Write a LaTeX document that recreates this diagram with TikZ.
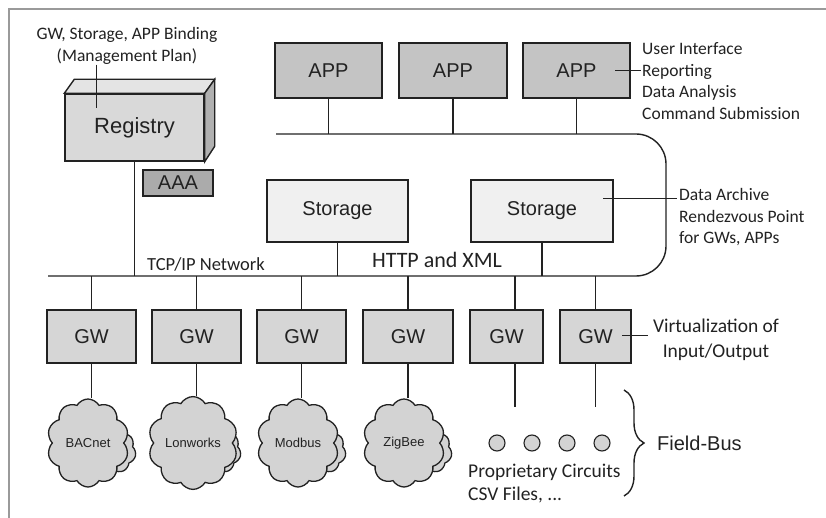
\documentclass[tikz,border=0pt]{standalone}
\usepackage{fontspec}
\setmainfont{Carlito}
\newfontfamily\arialf{Liberation Sans}
\usetikzlibrary{calc,shapes.symbols,decorations.pathreplacing}
\definecolor{ink}{HTML}{222222}
\definecolor{appfill}{HTML}{C4C4C4}
\definecolor{gwfill}{HTML}{D6D6D6}
\definecolor{stfill}{HTML}{F0F0F0}
\definecolor{aaafill}{HTML}{ABABAB}
\definecolor{regfront}{HTML}{D9D9D9}
\definecolor{regtop}{HTML}{E4E4E4}
\definecolor{regside}{HTML}{B0B0B0}
\definecolor{cloudfill}{HTML}{D3D3D3}
\definecolor{framegray}{HTML}{9A9A9A}
\begin{document}
\begin{tikzpicture}[x=1pt,y=-1pt,
  box/.style={draw=ink, line width=1.4pt, text=ink, inner sep=0pt,
    font=\arialf\fontsize{20}{24}\selectfont},
  appbox/.style={box, fill=appfill, minimum width=107pt, minimum height=55pt},
  gwbox/.style={box, fill=gwfill, minimum height=53pt},
  stbox/.style={box, fill=stfill, minimum width=141pt, minimum height=62pt},
  wire/.style={draw=ink, line width=1.4pt},
  leader/.style={draw=ink, line width=0.8pt},
  lbl/.style={text=ink, inner sep=0pt, font=\fontsize{17.5}{21.5}\selectfont},
  cloudnode/.style={cloud, cloud puffs=10, cloud puff arc=120, aspect=0.95,
    draw=ink, line width=1.3pt, fill=cloudfill, minimum width=82pt, minimum height=88pt,
    inner sep=0pt, text=ink, font=\arialf\fontsize{13}{15}\selectfont},
  cloudback/.style={cloud, cloud puffs=7, cloud puff arc=120, aspect=1,
    draw=ink, line width=1.3pt, fill=cloudfill, minimum width=44pt, minimum height=44pt,
    inner sep=0pt},
  dot/.style={circle, draw=ink, line width=1.1pt, fill=cloudfill, minimum size=16pt, inner sep=0pt}
]
\useasboundingbox (0,0) rectangle (826,518);
\fill[white] (0,0) rectangle (826,518);
\draw[framegray, line width=1.2pt] (9,518) -- (9,9) -- (826,9);

% Registry (3D box)
\node[box, fill=regfront, minimum width=139pt, minimum height=67pt,
  font=\arialf\fontsize{22}{26}\selectfont] (reg) at (134.5,127.5) {Registry};
\draw[ink, line width=1.4pt, fill=regtop] (reg.north west) -- ++(10,-14) -- ($(reg.north east)+(10,-14)$) -- (reg.north east) -- cycle;
\draw[ink, line width=1.4pt, fill=regside] (reg.north east) -- ++(10,-14) -- ++(0,67) -- (reg.south east) -- cycle;

\node[box, fill=aaafill, minimum width=70pt, minimum height=26pt] (aaa) at (178,183) {AAA};

% APPs
\node[appbox] (app1) at (328.5,70.5) {APP};
\node[appbox, minimum width=108pt] (app2) at (453,70.5) {APP};
\node[appbox] (app3) at (576.5,70.5) {APP};

% Storages
\node[stbox] (st1) at (337.5,211) {Storage};
\node[stbox, minimum width=142pt] (st2) at (542,211) {Storage};

% GWs
\node[gwbox, minimum width=89pt] (gw1) at (91.5,336.5) {GW};
\node[gwbox, minimum width=89pt] (gw2) at (196.5,336.5) {GW};
\node[gwbox, minimum width=89pt] (gw3) at (301.5,336.5) {GW};
\node[gwbox, minimum width=90pt] (gw4) at (408,336.5) {GW};
\node[gwbox, minimum width=73pt] (gw5) at (506.5,336.5) {GW};
\node[gwbox, minimum width=71pt] (gw6) at (595.5,336.5) {GW};

% Clouds (a small cloud behind each main cloud)
\foreach \x/\n in {92/1,197/2,302/3,408/4}
  \node[cloudback] (cb\n) at (\x+22,451) {};
\node[cloudnode] (c1) at (88,443) {BACnet};
\node[cloudnode] (c2) at (193,443) {Lonworks};
\node[cloudnode] (c3) at (298,443) {Modbus};
\node[cloudnode] (c4) at (404,443) {ZigBee};

% Circles
\node[dot] (d1) at (497,443) {};
\node[dot] (d2) at (532,443) {};
\node[dot] (d3) at (567,443) {};
\node[dot] (d4) at (602,443) {};

% Bus
\coordinate (lbus) at (48,276);
\coordinate (ubus) at (276,134);
\draw[wire, rounded corners=30pt] (lbus) -- (666,276) -- (666,134) -- (ubus);

% Connectors to bus
\draw[wire] (reg.south) -- (reg.south |- lbus);
\foreach \a in {app1,app2,app3} \draw[wire] (\a.south) -- (\a.south |- ubus);
\foreach \s in {st1,st2} \draw[wire] (\s.south) -- (\s.south |- lbus);
\foreach \g in {gw1,gw2,gw3,gw4,gw6} \draw[wire] (\g.north) -- (\g.north |- lbus);
\coordinate (g5x) at (515,276);
\draw[wire] (g5x) -- (g5x |- gw5.north);
\foreach \g/\c in {gw1/c1,gw2/c2,gw3/c3,gw4/c4} \draw[wire] (\g.south) -- (\g.south |- \c.north);
\coordinate (e5) at (515,407);
\coordinate (e6) at (595.5,407);
\draw[wire] (e5 |- gw5.south) -- (e5);
\draw[wire] (gw6.south) -- (e6);

% Labels
\node[lbl, align=center] (mgmt) at (127,46) {GW, Storage, APP Binding\\(Management Plan)};
\coordinate (mgin) at (96,108);
\draw[leader] (mgin |- mgmt.south) -- (mgin);

\node[lbl, align=left, anchor=west] (ui) at (642,81) {User Interface\\Reporting\\Data Analysis\\Command Submission};
\coordinate (uiin) at (615,70);
\draw[leader] (uiin) -- (641,70);

\node[lbl, align=left, anchor=west] (arch) at (679,217.5) {Data Archive\\Rendezvous Point\\for GWs, APPs};
\coordinate (arin) at (603,198);
\draw[leader] (arin) -- (677,198);

\node[text=ink, inner sep=0pt, anchor=base, font=\fontsize{18.5}{22}\selectfont] (tcp) at (206,271) {TCP/IP Network};
\node[text=ink, inner sep=0pt, anchor=base, font=\fontsize{22}{26}\selectfont] (http) at (437,268) {HTTP and XML};

\node[text=ink, inner sep=0pt, align=center, font=\fontsize{19.5}{25}\selectfont] (virt) at (716,339.5) {Virtualization of\\Input/Output};
\coordinate (vin) at (622,335);
\draw[leader] (vin) -- (648,335);

\node[text=ink, inner sep=0pt, align=left, anchor=west, font=\fontsize{19.5}{23.5}\selectfont] (prop) at (468,483.5) {Proprietary Circuits\\CSV Files, ...};

\coordinate (bt) at (624,390);
\coordinate (bb) at (624,496);
\draw[ink, line width=1.4pt, decorate, decoration={brace, amplitude=20pt}] (bt) -- (bb);
\node[text=ink, inner sep=0pt, anchor=west, font=\arialf\fontsize{20}{24}\selectfont] (fb) at (657,443) {Field-Bus};
\end{tikzpicture}
\end{document}
